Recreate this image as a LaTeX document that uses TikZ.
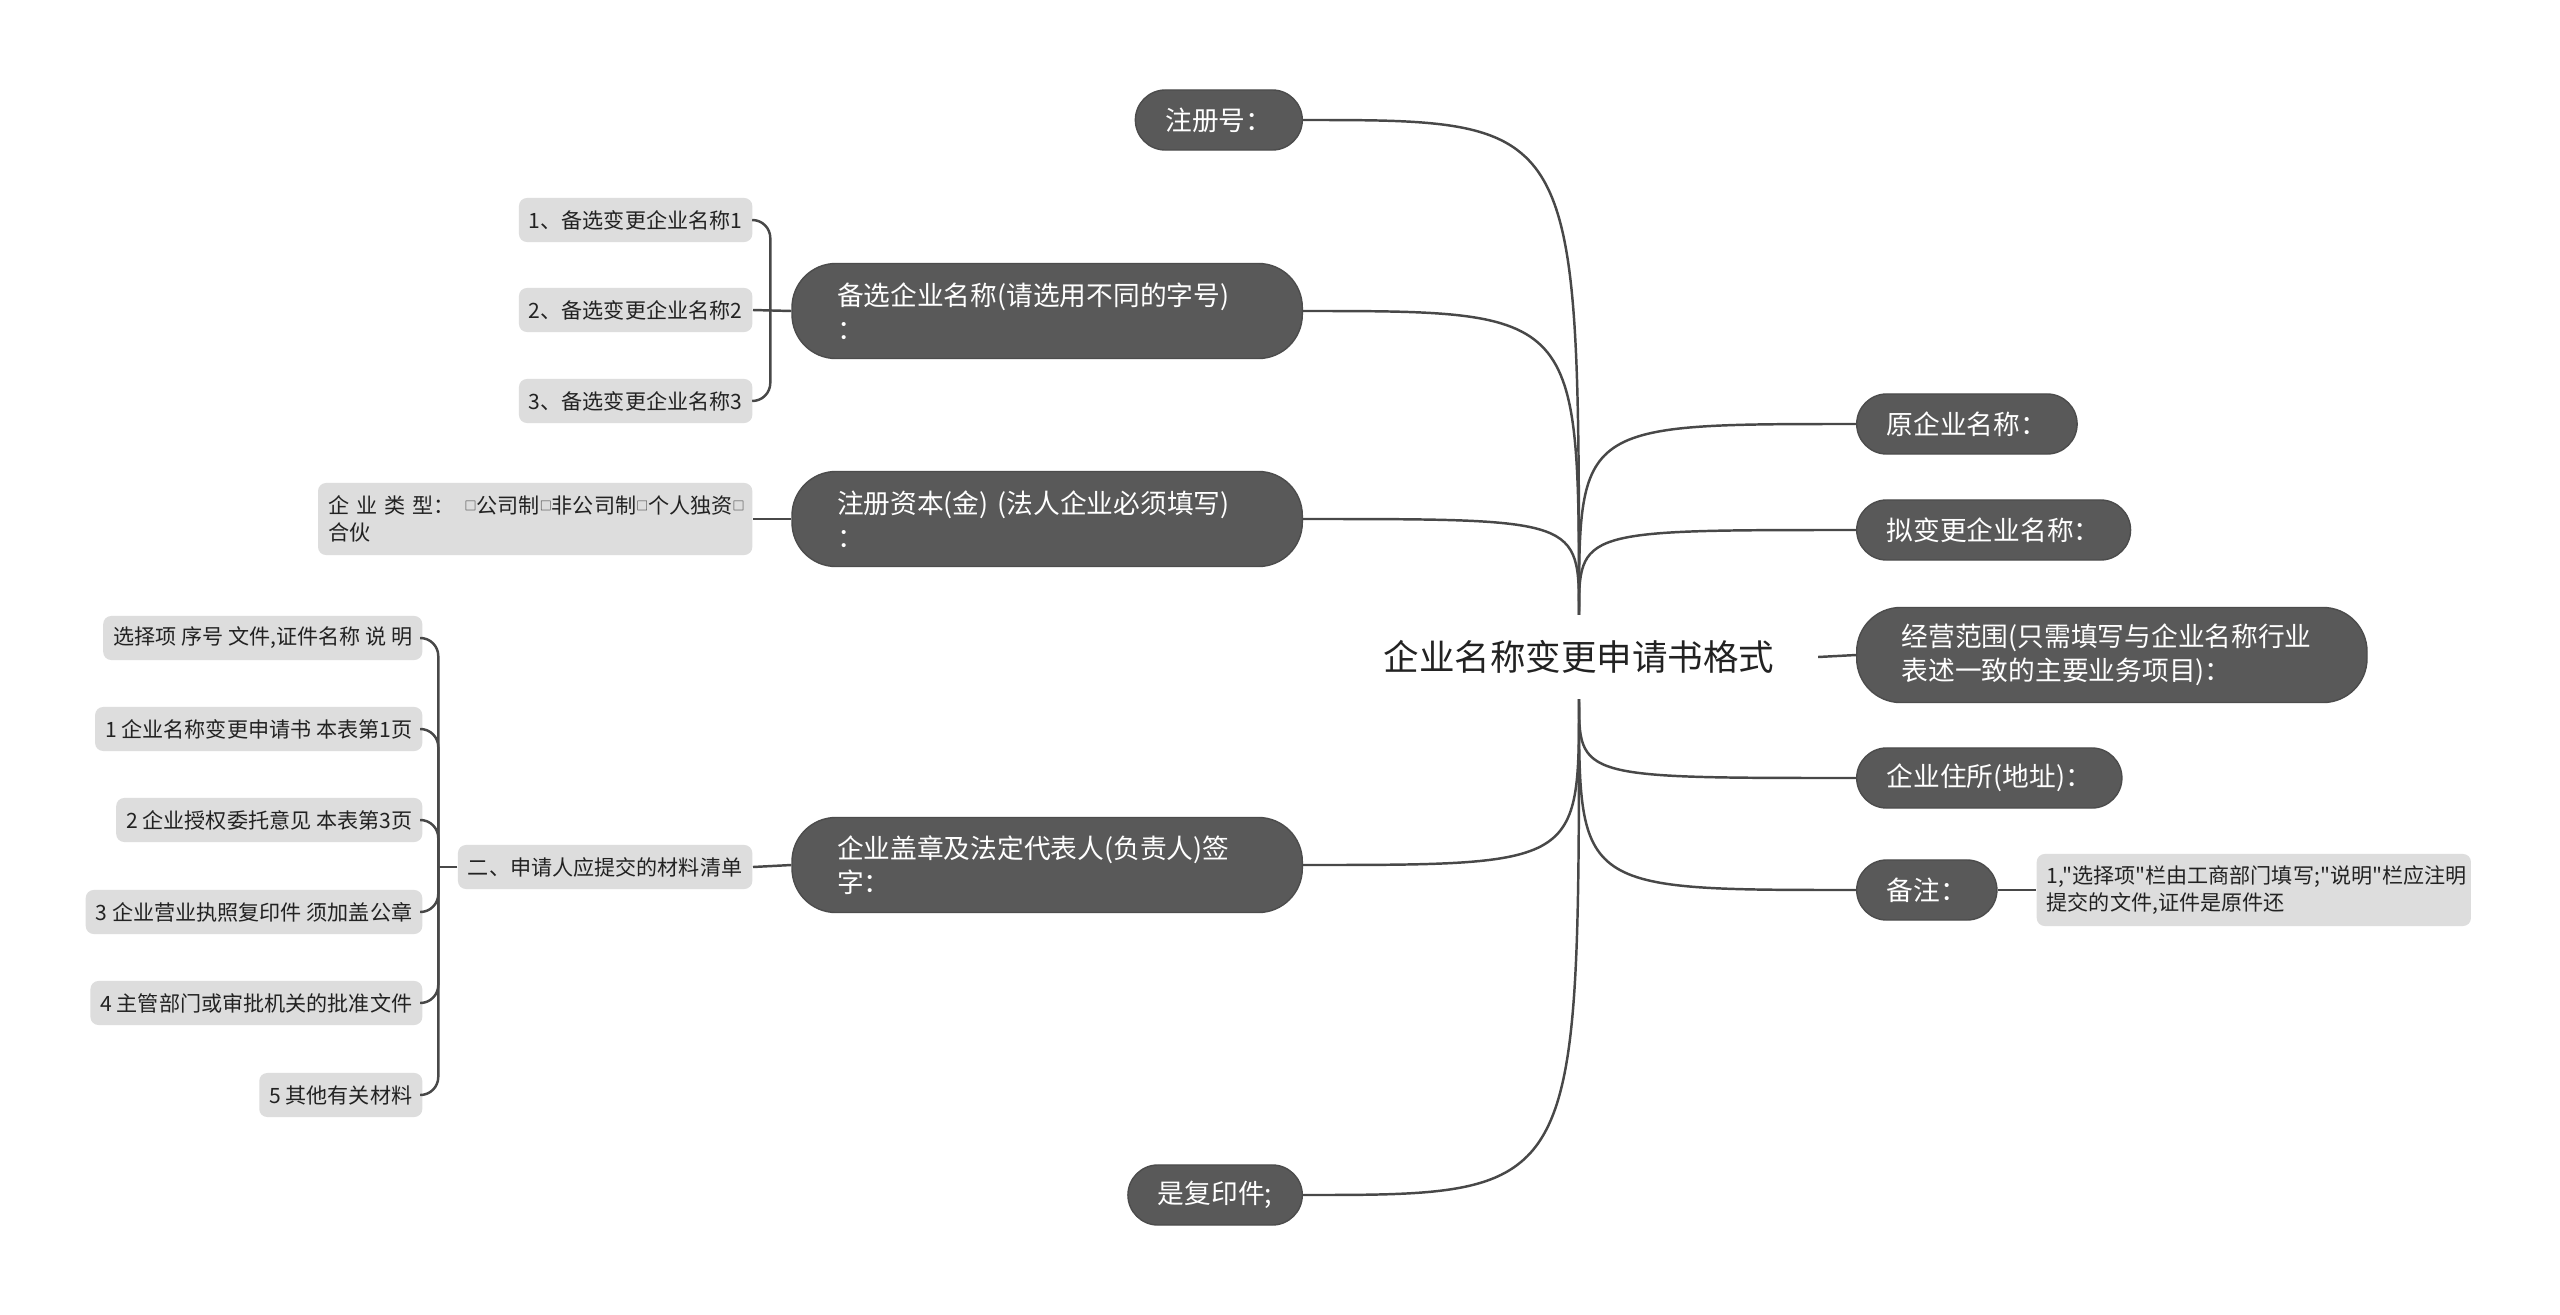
\documentclass[tikz,border=0pt]{standalone}
\usepackage{fontspec}
\setmainfont{Noto Sans CJK SC}[Ligatures=TeXOff]
\definecolor{pillgray}{RGB}{89,89,89}
\definecolor{boxgray}{RGB}{221,221,221}
\definecolor{linegray}{RGB}{72,72,72}
\definecolor{inkgray}{RGB}{34,34,34}
\newcommand{\optbox}{\raisebox{0.9pt}{\fontsize{3.4}{3.4}\selectfont □}}

\begin{document}
\begin{tikzpicture}[
    x=0.01cm, y=-0.01cm,
    % node styles
    root node/.style={font=\fontsize{10.1}{12}\selectfont, text=inkgray, inner xsep=0.43cm, inner ysep=0pt, minimum height=0.83cm},
    main node/.style={fill=pillgray, draw=pillgray!85!black, line width=0.4pt, text=white, rounded corners=0.3cm, font=\fontsize{7.6}{9.7}\selectfont, inner xsep=0.3cm, inner ysep=0pt, minimum height=0.6cm},
    wide node/.style={main node, rounded corners=0.44cm, align=left, text width=4.2cm, inner xsep=0.45cm, minimum height=0.95cm},
    leaf node/.style={fill=boxgray, text=inkgray, rounded corners=0.08cm, font=\fontsize{6}{7.7}\selectfont, inner xsep=0.1cm, inner ysep=0pt, minimum height=0.44cm},
    note node/.style={leaf node, align=left, text width=4.14cm, minimum height=0.72cm},
    % edge styles
    link/.style={draw=linegray, line width=0.7pt},
    bracket/.style={link, rounded corners=0.18cm}
]

% 0. Canvas
\fill[white] (0,0) rectangle (2560,1315);
\useasboundingbox (0,0) rectangle (2560,1315);

% 1. Root
\node[root node] (root) at (1579,657) {企业名称变更申请书格式};

% 2. Left branches
\node[main node, anchor=east] (zch) at (1303,120) {注册号：};
\node[wide node, anchor=east] (bxmc) at (1303,311) {备选企业名称(请选用不同的字号)\\：};
\node[wide node, anchor=east] (zczb) at (1303,519) {注册资本(金) (法人企业必须填写)\\：};
\node[wide node, anchor=east] (gzqz) at (1303,865) {企业盖章及法定代表人(负责人)签\\字：};
\node[main node, anchor=east] (sfyj) at (1303,1195) {是复印件;};

% 3. Right branches
\foreach \name/\y/\txt in {yqymc/424/原企业名称：, nbgmc/530/拟变更企业名称：, qyzs/778/企业住所(地址)：, bz/890/备注：}{
    \node[main node, anchor=west] (\name) at (1856,\y) {\txt};
}
\node[wide node, anchor=west] (jyfw) at (1856,655) {经营范围(只需填写与企业名称行业\\表述一致的主要业务项目)：};

% 4. Leaves
\foreach \i/\y in {1/220, 2/310, 3/401}{
    \node[leaf node, anchor=east] (bx\i) at (753,\y) {{\i}、备选变更企业名称{\i}};
}
\node[note node, anchor=east] (qylx) at (753,519) {\mbox{企 业 类 型：\hspace{0.1cm}\optbox 公司制\optbox 非公司制\optbox 个人独资\optbox}\\合伙};
\node[leaf node, anchor=east] (sqr) at (753,867) {二、申请人应提交的材料清单};
\foreach \i/\y/\txt in {0/638/{选择项 序号 文件,证件名称 说 明},
                        1/729/{1 企业名称变更申请书 本表第1页},
                        2/820/{2 企业授权委托意见 本表第3页},
                        3/912/{3 企业营业执照复印件 须加盖公章},
                        4/1003/{4 主管部门或审批机关的批准文件},
                        5/1095/{5 其他有关材料}}{
    \node[leaf node, anchor=east] (m\i) at (423,\y) {\txt};
}
\node[note node, anchor=west] (bzsm) at (2036,890) {\mbox{1,"选择项"栏由工商部门填写;"说明"栏应注明}\\提交的文件,证件是原件还};

% 5. Connectors from the root
\foreach \n in {zch, bxmc, zczb}{
    \draw[link] (root.north) .. controls (root.north |- \n.east) .. (\n.east);
}
\foreach \n in {gzqz, sfyj}{
    \draw[link] (root.south) .. controls (root.south |- \n.east) .. (\n.east);
}
\foreach \n in {yqymc, nbgmc}{
    \draw[link] (root.north) .. controls (root.north |- \n.west) .. (\n.west);
}
\foreach \n in {qyzs, bz}{
    \draw[link] (root.south) .. controls (root.south |- \n.west) .. (\n.west);
}
\draw[link] (root.east) -- (jyfw.west);

% 6. Connectors to the leaves
\draw[link] (bz.east) -- (bzsm.west);
\draw[link] (zczb.west) -- (qylx.east);
\draw[link] (gzqz.west) -- (sqr.east);
\draw[link] (bxmc.west) -- (bx2.east);
\draw[bracket] (bx1.east) -| ([xshift=-0.21cm]bxmc.west) |- (bx3.east);
\draw[link] (sqr.west) -- ([xshift=-0.19cm]sqr.west);
\draw[bracket] (m0.east) -| ([xshift=-0.19cm]sqr.west) |- (m5.east);
\foreach \i in {1,...,4}{
    \draw[bracket] (m\i.east) -| ([xshift=-0.19cm]sqr.west);
}

\end{tikzpicture}
\end{document}
